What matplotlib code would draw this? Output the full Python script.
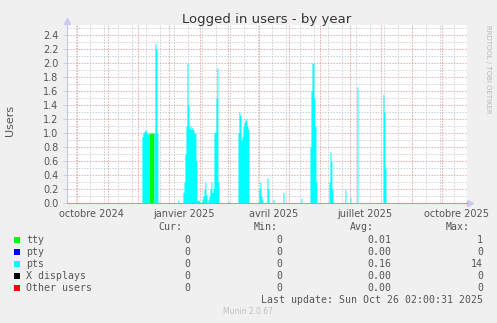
import matplotlib
matplotlib.use("Agg")
import matplotlib.pyplot as plt
import matplotlib.dates as mdates
from matplotlib.patches import Rectangle
import pandas as pd
import numpy as np

# ---------------- data ----------------
pts_dates = [
    "2024-12-05", "2024-12-06", "2024-12-07", "2024-12-08", "2024-12-09", "2024-12-10", "2024-12-11",
    "2024-12-17", "2024-12-18", "2024-12-19", "2024-12-20",
    "2025-01-10",
    "2025-01-15", "2025-01-16", "2025-01-17", "2025-01-18", "2025-01-19", "2025-01-20", "2025-01-21",
    "2025-01-22", "2025-01-23", "2025-01-24", "2025-01-25", "2025-01-26", "2025-01-27", "2025-01-28",
    "2025-01-29", "2025-01-30", "2025-01-31",
    "2025-02-03", "2025-02-04", "2025-02-05", "2025-02-06", "2025-02-07",
    "2025-02-09", "2025-02-10", "2025-02-11", "2025-02-12", "2025-02-13", "2025-02-14",
    "2025-02-15", "2025-02-16", "2025-02-17", "2025-02-18", "2025-02-19",
    "2025-03-01",
    "2025-03-11", "2025-03-12", "2025-03-13", "2025-03-14", "2025-03-15", "2025-03-16",
    "2025-03-17", "2025-03-18", "2025-03-19", "2025-03-20", "2025-03-21",
    "2025-04-01", "2025-04-02", "2025-04-03", "2025-04-04", "2025-04-09", "2025-04-10",
    "2025-04-15", "2025-04-25", "2025-05-13",
    "2025-05-22", "2025-05-23", "2025-05-24", "2025-05-25", "2025-05-26", "2025-05-27", "2025-05-28",
    "2025-06-10", "2025-06-11", "2025-06-12", "2025-06-13",
    "2025-06-26", "2025-07-01", "2025-07-08",
    "2025-08-03", "2025-08-04", "2025-08-05",
]
pts_values = [
    0.95, 1.00, 1.02, 1.05, 1.02, 1.00, 0.98,
    1.00, 2.28, 2.20, 1.00,
    0.04,
    0.15, 0.30, 0.70, 1.10, 2.00, 1.40, 1.07,
    1.10, 1.05, 1.08, 1.05, 1.00, 1.00, 0.60,
    0.04, 0.04, 0.03,
    0.05, 0.10, 0.20, 0.30, 0.12,
    0.05, 0.10, 0.20, 0.30, 0.15, 0.20,
    1.00, 1.02, 1.50, 1.93, 0.30,
    0.03,
    1.00, 1.30, 1.25, 0.90, 0.95, 1.10,
    1.15, 1.20, 1.18, 1.10, 1.05,
    0.20, 0.30, 0.10, 0.05, 0.36, 0.20,
    0.05, 0.15, 0.07,
    0.80, 1.60, 2.00, 2.00, 1.50, 1.10, 0.30,
    0.30, 0.73, 0.60, 0.20,
    0.19, 0.08, 1.66,
    1.55, 1.30, 0.50,
]
tty_dates = ["2024-12-12", "2024-12-13", "2024-12-14", "2024-12-15", "2024-12-16"]
tty_values = [1.0, 1.0, 1.0, 1.0, 1.0]

series_names = ["tty", "pty", "pts", "X displays", "Other users"]
series_colors = ["#00FF00", "#0000FF", "#00FFFF", "#000000", "#FF0000"]
cur_vals = ["0", "0", "0", "0", "0"]
min_vals = ["0", "0", "0", "0", "0"]
avg_vals = ["0.01", "0.00", "0.16", "0.00", "0.00"]
max_vals = ["1", "0", "14", "0", "0"]

x_labels = ["octobre 2024", "janvier 2025", "avril 2025", "juillet 2025", "octobre 2025"]
x_label_dates = ["2024-10-16", "2025-01-16", "2025-04-16", "2025-07-16", "2025-10-16"]
y_ticks = [0.0, 0.2, 0.4, 0.6, 0.8, 1.0, 1.2, 1.4, 1.6, 1.8, 2.0, 2.2, 2.4]

start = pd.Timestamp("2024-09-21 02:00")
end = pd.Timestamp("2025-10-26 02:00")

# ---------------- build daily series ----------------
idx = pd.date_range("2024-09-20", "2025-10-27", freq="D")
tty = pd.Series(0.0, index=idx)
tty.loc[pd.to_datetime(tty_dates)] = tty_values
pts = pd.Series(0.0, index=idx)
pts.loc[pd.to_datetime(pts_dates)] = pts_values
pty = pd.Series(0.0, index=idx)
xd = pd.Series(0.0, index=idx)
oth = pd.Series(0.0, index=idx)

W, H = 497, 323
fig = plt.figure(figsize=(W / 100, H / 100), dpi=100, facecolor="#F0F0F0")

def fx(x):
    return x / W

def fy(y):
    return 1 - y / H

left, right, top, bottom = 67, 467, 25, 203
ax = fig.add_axes([fx(left), fy(bottom), (right - left) / W, (bottom - top) / H])
ax.set_facecolor("white")
ax.set_xlim(start, end)
ymax = (bottom - top) / 70.0
ax.set_ylim(0, ymax)

# grid
grey = "#d0d0d0"
red = "#e8a8a8"
for y in np.arange(0.1, ymax, 0.2):
    ax.axhline(y, color=grey, lw=0.72, ls=(0, (1.4, 1.4)), zorder=1)
for y in y_ticks[1:]:
    ax.axhline(y, color=red, lw=0.72, ls=(0, (1.4, 1.4)), zorder=1)
for d in pd.date_range("2024-09-30", "2025-10-26", freq="14D"):
    ax.axvline(d, color=grey, lw=0.72, ls=(0, (1.4, 1.4)), zorder=1)
for d in pd.date_range("2024-10-01", "2025-10-26", freq="MS"):
    ax.axvline(d, color=red, lw=0.72, ls=(0, (1.4, 1.4)), zorder=1)

# stacked areas
base = np.zeros(len(idx))
for s, c in zip([tty, pty, pts, xd, oth], series_colors):
    ax.fill_between(idx, base, base + s.values, step="post", color=c, lw=0, zorder=2)
    base = base + s.values

# axes styling
for sp in ["top", "right"]:
    ax.spines[sp].set_visible(False)
ax.spines["left"].set_color("#c8c8e8")
ax.spines["left"].set_linewidth(0.8)
ax.spines["bottom"].set_color("#e09090")
ax.spines["bottom"].set_linewidth(0.8)
ax.spines["left"].set_zorder(3)
ax.spines["bottom"].set_zorder(3)

ax.set_yticks(y_ticks)
ax.set_yticklabels([f"{v:.1f}" for v in y_ticks])
ax.tick_params(axis="y", length=3, width=0.6, color="#c8c8e8", pad=3,
               labelsize=7, labelcolor="#555555")
ax.set_xticks(pd.to_datetime(x_label_dates))
ax.set_xticklabels(x_labels)
ax.tick_params(axis="x", length=0, pad=4, labelsize=7, labelcolor="#555555")

# arrows
ax.plot([0], [1.02], marker="^", color="#c8c8f0", markersize=4, transform=ax.transAxes, clip_on=False)
ax.plot([1.008], [0], marker=">", color="#c8c8f0", markersize=4, transform=ax.transAxes, clip_on=False)

# texts
fig.text(fx(267), fy(19), "Logged in users - by year", ha="center", va="center",
         fontsize=9.5, color="#333333")
fig.text(fx(10), fy(120), "Users", ha="center", va="center", rotation=90,
         fontsize=8, color="#555555")
fig.text(fx(488), fy(25), "RRDTOOL / TOBI OETIKER", ha="center", va="top", rotation=270,
         fontsize=5, color="#b8b8b8")

mono = "DejaVu Sans Mono"
fs = 7.1
tc = "#555555"
hy = 227.3
for lbl, xr in zip(["Cur:", "Min:", "Avg:", "Max:"], [182, 278, 374, 470]):
    fig.text(fx(xr), fy(hy), lbl, ha="right", va="center", family=mono, fontsize=fs, color=tc)
rows = [240, 252, 263.7, 275.7, 287.7]
for i, ry in enumerate(rows):
    fig.patches.append(Rectangle((fx(14), fy(ry + 3)), 6 / W, 6 / H,
                                 transform=fig.transFigure, color=series_colors[i], lw=0))
    fig.text(fx(26), fy(ry), series_names[i], ha="left", va="center", family=mono, fontsize=fs, color=tc)
    for vals, xr in zip([cur_vals, min_vals, avg_vals, max_vals], [190, 282, 391, 483]):
        fig.text(fx(xr), fy(ry), vals[i], ha="right", va="center", family=mono, fontsize=fs, color=tc)
fig.text(fx(483), fy(299.7), "Last update: Sun Oct 26 02:00:31 2025", ha="right", va="center",
         family=mono, fontsize=fs, color=tc)
fig.text(fx(248), fy(312), "Munin 2.0.67", ha="center", va="center", fontsize=5.5, color="#c0c0c0")

fig.savefig("out.png", dpi=100, facecolor=fig.get_facecolor())
